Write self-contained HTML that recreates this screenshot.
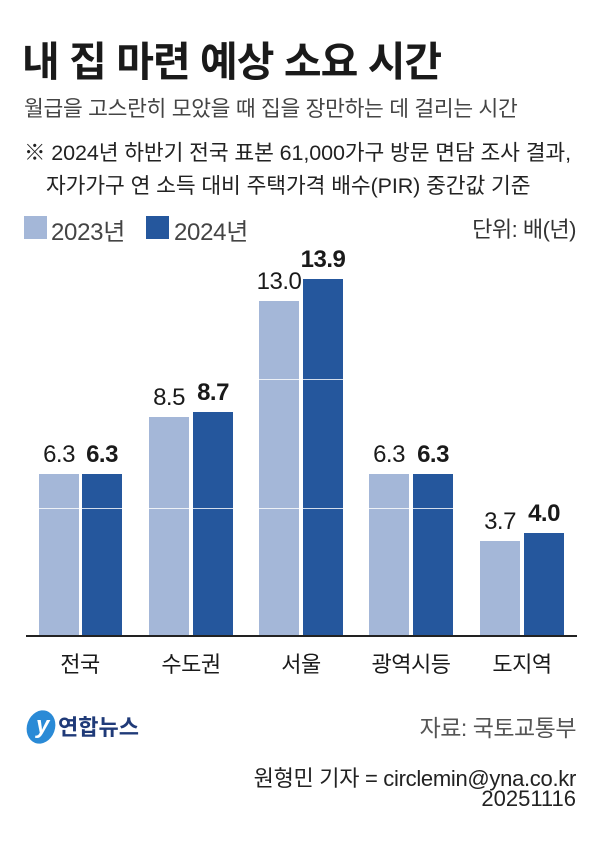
<!DOCTYPE html>
<html><head><meta charset="utf-8"><style>
body{margin:0;width:600px;height:867px;background:#fff;position:relative;overflow:hidden;font-family:"Liberation Sans","Noto Sans CJK KR",sans-serif;color:#1a1a1a}
.t{position:absolute;white-space:nowrap}
.bar{position:absolute;width:40px}
.l{background:#a4b7d8}.d{background:#25579d}
.g{position:absolute;left:26px;width:551px;height:1px;background:rgba(255,255,255,0.8)}
.v{position:absolute;width:70px;text-align:center;font-size:24px;letter-spacing:-0.5px}
.x{position:absolute;width:110px;text-align:center;font-size:22px;top:647px;letter-spacing:-0.5px}
</style></head><body>
<div class="t" style="left:22px;top:28px;font-size:41px;font-weight:bold;letter-spacing:-1px">내 집 마련 예상 소요 시간</div>
<div class="t" style="left:24px;top:92px;font-size:21.5px;color:#444;letter-spacing:-0.3px">월급을 고스란히 모았을 때 집을 장만하는 데 걸리는 시간</div>
<div class="t" style="left:24px;top:136px;font-size:21.5px;color:#222;letter-spacing:-0.1px">※ 2024년 하반기 전국 표본 61,000가구 방문 면담 조사 결과,</div>
<div class="t" style="left:46px;top:169px;font-size:21.5px;color:#222;letter-spacing:-0.1px">자가가구 연 소득 대비 주택가격 배수(PIR) 중간값 기준</div>
<div style="position:absolute;left:24px;top:216px;width:23px;height:23px" class="l"></div>
<div class="t" style="left:51px;top:212px;font-size:24px;color:#444;letter-spacing:-0.3px">2023년</div>
<div style="position:absolute;left:146px;top:216px;width:23px;height:23px" class="d"></div>
<div class="t" style="left:174px;top:212px;font-size:24px;color:#444;letter-spacing:-0.3px">2024년</div>
<div class="t" style="right:24px;top:212px;font-size:22px;color:#333;letter-spacing:-0.5px">단위: 배(년)</div>

<div class="bar l" style="left:39px;top:474px;height:162px"></div>
<div class="bar d" style="left:82px;top:474px;height:162px"></div>
<div class="bar l" style="left:149px;top:417px;height:219px"></div>
<div class="bar d" style="left:193px;top:412px;height:224px"></div>
<div class="bar l" style="left:259px;top:301px;height:335px"></div>
<div class="bar d" style="left:303px;top:279px;height:357px"></div>
<div class="bar l" style="left:369px;top:474px;height:162px"></div>
<div class="bar d" style="left:413px;top:474px;height:162px"></div>
<div class="bar l" style="left:480px;top:541px;height:95px"></div>
<div class="bar d" style="left:524px;top:533px;height:103px"></div>
<div class="g" style="top:508px"></div>
<div class="g" style="top:379px"></div>
<div style="position:absolute;left:26px;top:635px;width:551px;height:2px;background:#222"></div>

<div class="v" style="left:24px;top:441px">6.3</div>
<div class="v" style="left:67px;top:441px;font-weight:bold">6.3</div>
<div class="v" style="left:134px;top:384px">8.5</div>
<div class="v" style="left:178px;top:379px;font-weight:bold">8.7</div>
<div class="v" style="left:244px;top:268px">13.0</div>
<div class="v" style="left:288px;top:246px;font-weight:bold">13.9</div>
<div class="v" style="left:354px;top:441px">6.3</div>
<div class="v" style="left:398px;top:441px;font-weight:bold">6.3</div>
<div class="v" style="left:465px;top:508px">3.7</div>
<div class="v" style="left:509px;top:500px;font-weight:bold">4.0</div>

<div class="x" style="left:25px">전국</div>
<div class="x" style="left:136px">수도권</div>
<div class="x" style="left:246px">서울</div>
<div class="x" style="left:356px">광역시등</div>
<div class="x" style="left:467px">도지역</div>

<div style="position:absolute;left:27px;top:710px;width:28px;height:34px;border-radius:50%;background:#2a8ad6;transform:rotate(20deg)"></div>
<div class="t" style="left:36px;top:712px;font-size:24px;color:#fff;font-style:italic;font-weight:bold">y</div>
<div class="t" style="left:58px;top:710px;font-size:22px;font-weight:bold;color:#1f3a78">연합뉴스</div>
<div class="t" style="right:24px;top:709px;font-size:23px;color:#555;letter-spacing:-0.5px">자료: 국토교통부</div>
<div class="t" style="right:24px;top:761px;font-size:22px;color:#222;letter-spacing:-0.3px">원형민 기자 = circlemin@yna.co.kr</div>
<div class="t" style="right:24px;top:786px;font-size:22px;color:#222;letter-spacing:0px">20251116</div>
</body></html>
